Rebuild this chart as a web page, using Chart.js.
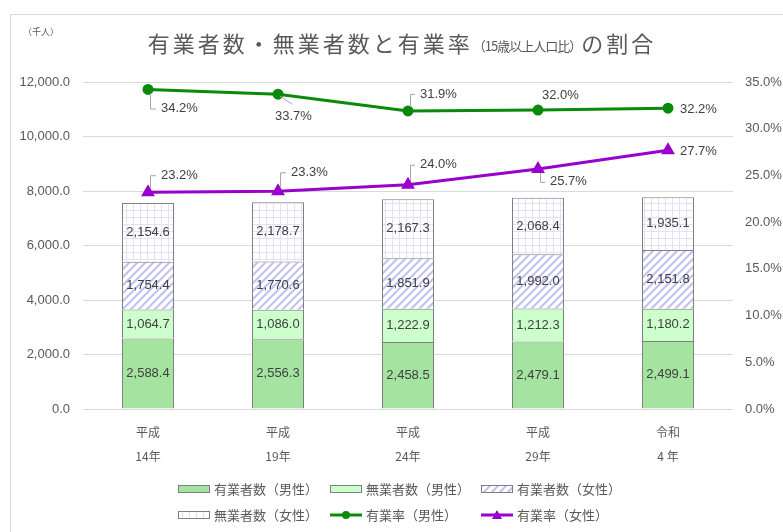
<!DOCTYPE html>
<html><head><meta charset="utf-8">
<script src="https://cdn.jsdelivr.net/npm/chart.js@4"></script>
<style>html,body{margin:0;padding:0;background:#fff}#wrap{width:783px;height:532px;position:relative}</style>
</head><body><div id="wrap"><canvas id="c" width="783" height="532"></canvas></div>
<script>
// ---- data ----
const categories = [["平成","14年"],["平成","19年"],["平成","24年"],["平成","29年"],["令和","4 年"]];
const employedMale = [2588.4, 2556.3, 2458.5, 2479.1, 2499.1];
const nonEmployedMale = [1064.7, 1086.0, 1222.9, 1212.3, 1180.2];
const employedFemale = [1754.4, 1770.6, 1851.9, 1992.0, 2151.8];
const nonEmployedFemale = [2154.6, 2178.7, 2167.3, 2068.4, 1935.1];
const rateMale = [34.2, 33.7, 31.9, 32.0, 32.2];
const rateFemale = [23.2, 23.3, 24.0, 25.7, 27.7];
const seriesNames = ["有業者数（男性）","無業者数（男性）","有業者数（女性）","無業者数（女性）","有業率（男性）","有業率（女性）"];
const leftMax = 12000, leftStep = 2000;
const rightMax = 35, rightStep = 5;
const titleParts = ["有業者数・無業者数と有業率", "（15歳以上人口比）", "の割合"];
const unitLabel = "（千人）";

// ---- styles ----
const CJK = "'Noto Sans CJK JP', sans-serif";
const NUM = "'Liberation Sans', 'Noto Sans CJK JP', sans-serif";
const GREEN = '#0a8a0a', PURPLE = '#9900cc', BORDER = '#7f7f7f';

function hatchPattern() {
  const c = document.createElement('canvas'); c.width = 8; c.height = 8;
  const g = c.getContext('2d');
  g.fillStyle = '#fff'; g.fillRect(0,0,8,8);
  g.strokeStyle = '#c0c0f2'; g.lineWidth = 2;
  g.beginPath();
  g.moveTo(-4,4); g.lineTo(4,-4);
  g.moveTo(0,8); g.lineTo(8,0);
  g.moveTo(4,12); g.lineTo(12,4);
  g.stroke();
  return g.createPattern(c,'repeat');
}
function gridPattern() {
  const c = document.createElement('canvas'); c.width = 7; c.height = 7;
  const g = c.getContext('2d');
  g.fillStyle = '#fff'; g.fillRect(0,0,7,7);
  g.fillStyle = '#e4e0fa';
  g.fillRect(0,0,7,1); g.fillRect(0,0,1,7);
  return g.createPattern(c,'repeat');
}
const ctx0 = document.getElementById('c').getContext('2d');
const fills = ['#a5e3a0', '#ccffcc', hatchPattern(), gridPattern()];

const fmt1 = v => v.toLocaleString('en-US', {minimumFractionDigits:1, maximumFractionDigits:1});

// label placement for line series (dataset index -> per point)
const lineLabelPlacement = {
  4: [{dx:13,dy:19,lead:'v'},{dx:-3,dy:22,lead:'d'},{dx:12,dy:-17,lead:'v'},{dx:4,dy:-15,lead:null},{dx:12,dy:1,lead:null}],
  5: [{dx:13,dy:-17,lead:'v'},{dx:13,dy:-19,lead:'v'},{dx:12,dy:-20,lead:'v'},{dx:12,dy:13,lead:'v'},{dx:12,dy:1,lead:null}]
};

const decorPlugin = {
  id: 'decor',
  beforeDraw(chart) {
    const c = chart.ctx;
    c.save();
    c.fillStyle = '#fff'; c.fillRect(0,0,chart.width,chart.height);
    c.strokeStyle = '#d9d9d9'; c.lineWidth = 1;
    c.strokeRect(10.5, 14.5, 800, 600);
    // title
    const f1 = "22px " + CJK, f2 = "13px " + CJK;
    const ls1 = '3px', ls2 = '-1px';
    c.letterSpacing = ls1;
    c.font = f1; const w1 = c.measureText(titleParts[0]).width, w3 = c.measureText(titleParts[2]).width;
    c.letterSpacing = ls2;
    c.font = f2; const w2 = c.measureText(titleParts[1]).width;
    let x = 402 - (w1 + w2 + w3) / 2;
    c.fillStyle = '#595959'; c.textBaseline = 'middle'; c.textAlign = 'left';
    c.letterSpacing = ls1; c.font = f1; c.fillText(titleParts[0], x, 44); x += w1;
    c.letterSpacing = ls2; c.font = f2; c.fillText(titleParts[1], x, 46); x += w2;
    c.letterSpacing = ls1; c.font = f1; c.fillText(titleParts[2], x, 44);
    c.letterSpacing = '0px';
    c.font = "9px " + CJK; c.textAlign = 'center';
    c.fillText(unitLabel, 41, 32);
    c.restore();
  },
  afterDatasetsDraw(chart) {
    const c = chart.ctx;
    c.save();
    c.textBaseline = 'middle';
    // bar labels
    c.font = "13px " + NUM; c.fillStyle = '#404040'; c.textAlign = 'center';
    for (let d = 0; d < 4; d++) {
      const meta = chart.getDatasetMeta(d);
      meta.data.forEach((el, i) => {
        c.fillText(fmt1(chart.data.datasets[d].data[i]), el.x, (el.y + el.base) / 2);
      });
    }
    // line labels
    c.textAlign = 'left';
    [4,5].forEach(d => {
      const meta = chart.getDatasetMeta(d);
      meta.data.forEach((el, i) => {
        const p = lineLabelPlacement[d][i];
        const lx = el.x + p.dx, ly = el.y + p.dy;
        c.strokeStyle = '#a6a6a6'; c.lineWidth = 1;
        if (p.lead === 'v') {
          const sy = el.y + (p.dy > 0 ? 4 : -4);
          c.beginPath(); c.moveTo(el.x + 2.5, sy); c.lineTo(el.x + 2.5, ly + 0.5); c.lineTo(lx - 5, ly + 0.5); c.stroke();
        } else if (p.lead === 'd') {
          c.beginPath(); c.moveTo(el.x + 2, el.y + 2); c.lineTo(el.x + 14, el.y + 10); c.stroke();
        }
        c.fillStyle = '#404040';
        c.fillText(chart.data.datasets[d].data[i].toFixed(1) + '%', lx, ly);
      });
    });
    c.restore();
  },
  afterDraw(chart) {
    const c = chart.ctx;
    c.save();
    const cols = [178, 330, 481];
    const rows = [489, 515];
    c.font = "13px " + CJK; c.textBaseline = 'middle'; c.textAlign = 'left'; c.fillStyle = '#595959';
    chart.data.datasets.forEach((ds, i) => {
      const x = cols[i % 3], y = rows[Math.floor(i / 3)];
      if (ds.type === 'line') {
        c.strokeStyle = ds.borderColor; c.lineWidth = 3;
        c.beginPath(); c.moveTo(x, y); c.lineTo(x + 32, y); c.stroke();
        c.fillStyle = ds.borderColor;
        c.beginPath();
        if (ds.pointStyle === 'triangle') { c.moveTo(x + 16, y - 5); c.lineTo(x + 21, y + 4); c.lineTo(x + 11, y + 4); c.closePath(); }
        else c.arc(x + 16, y, 4, 0, Math.PI * 2);
        c.fill();
      } else {
        c.fillStyle = ds.backgroundColor; c.fillRect(x, y - 4, 32, 8);
        c.strokeStyle = BORDER; c.lineWidth = 1; c.strokeRect(x + 0.5, y - 3.5, 31, 7);
      }
      c.fillStyle = '#595959';
      c.fillText(ds.label, x + 36, y);
    });
    c.restore();
  }
};

const barDs = [employedMale, nonEmployedMale, employedFemale, nonEmployedFemale].map((arr, i) => ({
  type: 'bar', label: seriesNames[i], data: arr, backgroundColor: fills[i],
  borderColor: BORDER, borderWidth: 1, yAxisID: 'y', stack: 's', order: 2,
  barPercentage: 0.4, categoryPercentage: 1.0
}));
const lineDs = [
  { type: 'line', label: seriesNames[4], data: rateMale, borderColor: GREEN, backgroundColor: GREEN,
    borderWidth: 3, pointStyle: 'circle', pointRadius: 4, yAxisID: 'y1', order: 0, tension: 0 },
  { type: 'line', label: seriesNames[5], data: rateFemale, borderColor: PURPLE, backgroundColor: PURPLE,
    borderWidth: 3, pointStyle: 'triangle', pointRadius: 5, yAxisID: 'y1', order: 0, tension: 0 }
];

new Chart(ctx0, {
  data: { labels: categories, datasets: [...barDs, ...lineDs] },
  plugins: [decorPlugin],
  options: {
    responsive: false, animation: false, devicePixelRatio: 1,
    layout: { padding: { top: 82, left: 0, right: 0, bottom: 0 } },
    plugins: { legend: { display: false }, title: { display: false }, tooltip: { enabled: false } },
    scales: {
      x: {
        stacked: true,
        grid: { display: false, drawTicks: false },
        border: { display: false },
        ticks: { color: '#595959', font: { family: CJK, size: 12, lineHeight: 2 }, padding: 11, maxRotation: 0 },
        afterFit: s => { s.height = 123; }
      },
      y: {
        position: 'left', stacked: true, min: 0, max: leftMax,
        grid: { color: '#d9d9d9', drawTicks: false },
        border: { display: false },
        ticks: { stepSize: leftStep, color: '#595959', font: { family: NUM, size: 13 }, padding: 13,
          callback: v => fmt1(v) },
        afterFit: s => { s.width = 83; }
      },
      y1: {
        position: 'right', min: 0, max: rightMax,
        grid: { display: false, drawTicks: false },
        border: { display: false },
        ticks: { stepSize: rightStep, color: '#595959', font: { family: NUM, size: 13 }, padding: 12,
          callback: v => v.toFixed(1) + '%' },
        afterFit: s => { s.width = 50; }
      }
    }
  }
});
</script>
</body></html>
